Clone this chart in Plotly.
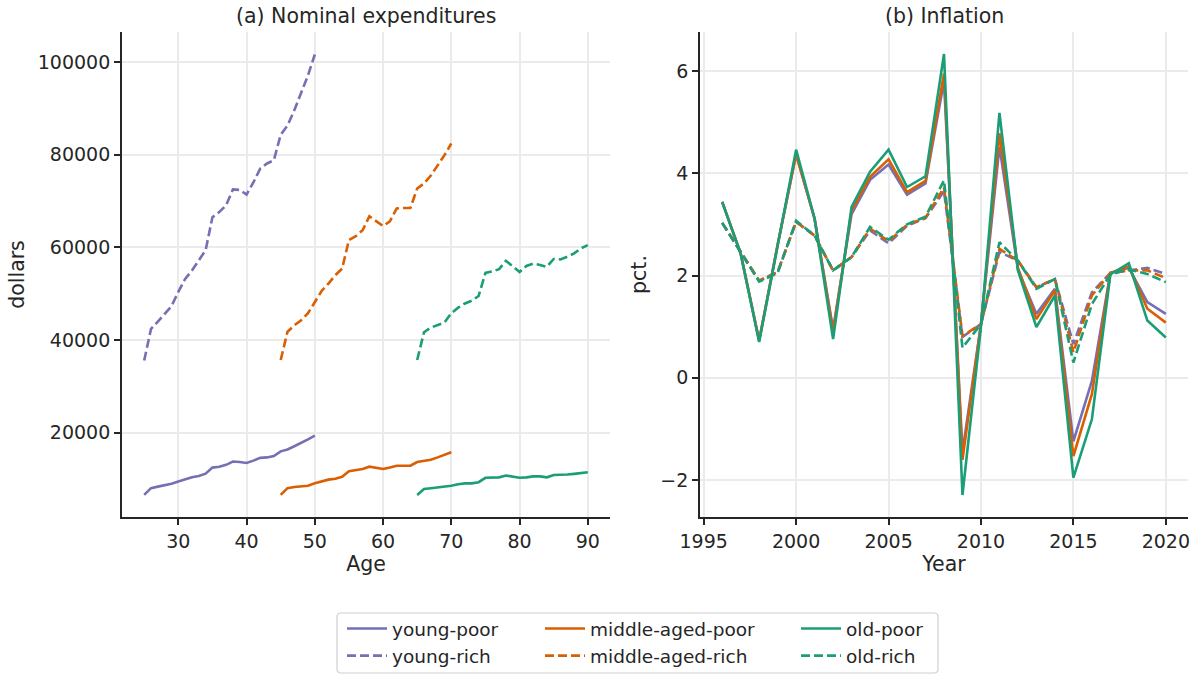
import plotly.graph_objects as go

W, H = 1201, 675

# ---------------- data ----------------
ages_young = list(range(25, 51))
ages_middle = list(range(45, 71))
ages_old = list(range(65, 91))

young_poor = [6600, 8060, 8400, 8700, 9000, 9500, 10000, 10400, 10700, 11200, 12500, 12700, 13100,
              13800, 13700, 13500, 14000, 14600, 14700, 15000, 16000, 16400, 17100, 17800, 18600, 19400]
young_rich = [35600, 42400, 44000, 45700, 47300, 50400, 53200, 55000, 57200, 59400, 66500, 67600, 69100,
              72500, 72400, 71400, 74000, 77000, 78100, 78800, 84300, 86300, 89600, 93200, 97100, 101600]
middle_poor = [6600, 8060, 8300, 8500, 8600, 9100, 9500, 9900, 10100, 10500, 11700, 11900, 12200,
               12700, 12500, 12200, 12500, 12900, 12900, 12900, 13700, 13900, 14200, 14700, 15300, 15800]
middle_rich = [35700, 41800, 43200, 44300, 45800, 48300, 50600, 52200, 54000, 55400, 61600, 62400, 63700,
               66700, 65600, 64600, 65600, 68400, 68500, 68500, 72700, 73800, 75500, 77700, 79900, 82400]
old_poor = [6600, 7900, 8060, 8200, 8300, 8600, 8900, 9100, 9100, 9350, 10300, 10350, 10400,
            10800, 10600, 10300, 10400, 10600, 10600, 10400, 10900, 10900, 11000, 11150, 11400, 11500]
old_rich = [35700, 41700, 42700, 43200, 43800, 45800, 47000, 47900, 48500, 49500, 54500, 54800, 55300,
            57100, 55800, 54700, 56000, 56500, 56200, 55800, 57500, 57400, 58000, 58700, 59800, 60500]

years = list(range(1996, 2021))
infl_young_poor = [3.44, 2.43, 0.73, 2.60, 4.37, 3.11, 0.95, 3.20, 3.87, 4.17, 3.58, 3.80, 5.80,
                   -1.45, 1.05, 4.52, 2.12, 1.25, 1.74, -1.24, -0.06, 2.05, 2.15, 1.48, 1.25]
infl_middle_poor = [3.44, 2.43, 0.73, 2.60, 4.37, 3.11, 0.90, 3.27, 3.93, 4.27, 3.63, 3.85, 5.95,
                    -1.60, 1.05, 4.78, 2.15, 1.15, 1.71, -1.53, -0.32, 2.05, 2.18, 1.35, 1.08]
infl_old_poor = [3.44, 2.43, 0.70, 2.60, 4.46, 3.11, 0.76, 3.34, 4.03, 4.46, 3.73, 3.94, 6.33,
                 -2.29, 1.00, 5.18, 2.10, 0.99, 1.61, -1.95, -0.81, 2.02, 2.24, 1.12, 0.79]
infl_young_rich = [3.03, 2.46, 1.90, 2.07, 3.05, 2.78, 2.10, 2.36, 2.88, 2.63, 2.97, 3.12, 3.65,
                   0.80, 1.05, 2.46, 2.29, 1.77, 1.93, 0.66, 1.67, 2.05, 2.10, 2.15, 2.03]
infl_middle_rich = [3.03, 2.46, 1.90, 2.07, 3.05, 2.78, 2.10, 2.36, 2.92, 2.67, 2.99, 3.13, 3.72,
                    0.82, 1.05, 2.52, 2.29, 1.77, 1.93, 0.50, 1.61, 2.05, 2.10, 2.10, 1.95]
infl_old_rich = [3.03, 2.46, 1.88, 2.05, 3.07, 2.78, 2.10, 2.36, 2.95, 2.70, 3.00, 3.15, 3.86,
                 0.59, 1.05, 2.65, 2.29, 1.74, 1.93, 0.30, 1.44, 2.02, 2.12, 2.03, 1.87]

group_names = ["young", "middle-aged", "old"]
colors = ["#7570b3", "#d95f02", "#1b9e77"]

# ---------------- helpers ----------------
def px_x(v):
    return v / W

def px_y(v):
    return 1 - v / H

FONT = "DejaVu Sans"
TXT = "#262626"
GRID = "#ebebeb"
LW = 2.6
DASH = "9px,4px"
TICK_SIZE = 19
LABEL_SIZE = 20.5
LEG_SIZE = 18.5

fig = go.Figure()

left_sets = [(ages_young, young_poor, young_rich),
             (ages_middle, middle_poor, middle_rich),
             (ages_old, old_poor, old_rich)]
right_sets = [(infl_young_poor, infl_young_rich),
              (infl_middle_poor, infl_middle_rich),
              (infl_old_poor, infl_old_rich)]
legends = ["legend", "legend2", "legend3"]

for i, name in enumerate(group_names):
    ages, poor, rich = left_sets[i]
    c = colors[i]
    fig.add_trace(go.Scatter(x=ages, y=poor, mode="lines", name=f"{name}-poor",
                             line=dict(color=c, width=LW), xaxis="x", yaxis="y",
                             legend=legends[i], legendgroup=f"{name}-poor", legendrank=1))
    fig.add_trace(go.Scatter(x=ages, y=rich, mode="lines", name=f"{name}-rich",
                             line=dict(color=c, width=LW, dash=DASH), xaxis="x", yaxis="y",
                             legend=legends[i], legendgroup=f"{name}-rich", legendrank=2))
for i, name in enumerate(group_names):
    ip, ir = right_sets[i]
    c = colors[i]
    fig.add_trace(go.Scatter(x=years, y=ip, mode="lines", showlegend=False,
                             line=dict(color=c, width=LW), xaxis="x2", yaxis="y2"))
    fig.add_trace(go.Scatter(x=years, y=ir, mode="lines", showlegend=False,
                             line=dict(color=c, width=LW, dash=DASH), xaxis="x2", yaxis="y2"))

axis_common = dict(
    showline=True, linecolor=TXT, linewidth=1.8, mirror=False,
    ticks="outside", ticklen=6, tickwidth=1.5, tickcolor=TXT,
    showgrid=True, gridcolor=GRID, gridwidth=1.5, zeroline=False,
    tickfont=dict(family=FONT, size=TICK_SIZE, color=TXT),
    automargin=False,
)
label_font = dict(family=FONT, size=LABEL_SIZE, color=TXT)

ybot, ytop = px_y(517), px_y(32)

fig.update_layout(
    width=W, height=H,
    margin=dict(l=0, r=0, t=0, b=0, autoexpand=False),
    paper_bgcolor="white", plot_bgcolor="white",
    font=dict(family=FONT, size=TICK_SIZE, color=TXT),
    xaxis=dict(domain=[px_x(122), px_x(610)], range=[21.75, 93.25], anchor="y",
               tickmode="array", tickvals=[30, 40, 50, 60, 70, 80, 90],
               title=dict(text="Age", standoff=5, font=label_font),
               **axis_common),
    yaxis=dict(domain=[ybot, ytop], range=[1845, 106455], anchor="x",
               tickmode="array", tickvals=[20000, 40000, 60000, 80000, 100000], tickformat="d",
               title=dict(text="dollars", standoff=8, font=label_font),
               **axis_common),
    xaxis2=dict(domain=[px_x(700), px_x(1188)], range=[1994.8, 2021.2], anchor="y2",
                tickmode="array", tickvals=[1995, 2000, 2005, 2010, 2015, 2020],
                title=dict(text="Year", standoff=5, font=label_font),
                **axis_common),
    yaxis2=dict(domain=[ybot, ytop], range=[-2.72, 6.76], anchor="x2",
                tickmode="array", tickvals=[-2, 0, 2, 4, 6],
                title=dict(text="pct.", standoff=8, font=label_font),
                **axis_common),
    showlegend=True,
)

leg_common = dict(orientation="v", xanchor="left", yanchor="top", bgcolor="rgba(0,0,0,0)",
                  borderwidth=0, font=dict(family=FONT, size=LEG_SIZE, color=TXT),
                  tracegroupgap=0, itemwidth=40)
fig.update_layout(
    legend=dict(x=px_x(342), y=px_y(610), **leg_common),
    legend2=dict(x=px_x(540), y=px_y(610), **leg_common),
    legend3=dict(x=px_x(796), y=px_y(610), **leg_common),
)

# subplot titles
for xc, txt in [((122 + 610) / 2, "(a) Nominal expenditures"), ((700 + 1188) / 2, "(b) Inflation")]:
    fig.add_annotation(x=px_x(xc), y=px_y(16), xref="paper", yref="paper", text=txt,
                       showarrow=False, xanchor="center", yanchor="middle",
                       font=label_font)

# legend frame (rounded rectangle)
x0, x1, y0, y1, r = 337, 938, 613, 673, 4
def P(x, y):
    return f"{px_x(x):.6f},{px_y(y):.6f}"
path = (f"M {P(x0 + r, y0)} L {P(x1 - r, y0)} Q {P(x1, y0)} {P(x1, y0 + r)} "
        f"L {P(x1, y1 - r)} Q {P(x1, y1)} {P(x1 - r, y1)} L {P(x0 + r, y1)} "
        f"Q {P(x0, y1)} {P(x0, y1 - r)} L {P(x0, y0 + r)} Q {P(x0, y0)} {P(x0 + r, y0)} Z")
fig.add_shape(type="path", path=path, xref="paper", yref="paper",
              line=dict(color="#d0d0d0", width=1.2), fillcolor="rgba(255,255,255,0.8)", layer="below")

fig.write_html("out.html", config={"displayModeBar": False},
               post_script="document.body.style.margin='0';document.body.style.overflow='hidden';")
